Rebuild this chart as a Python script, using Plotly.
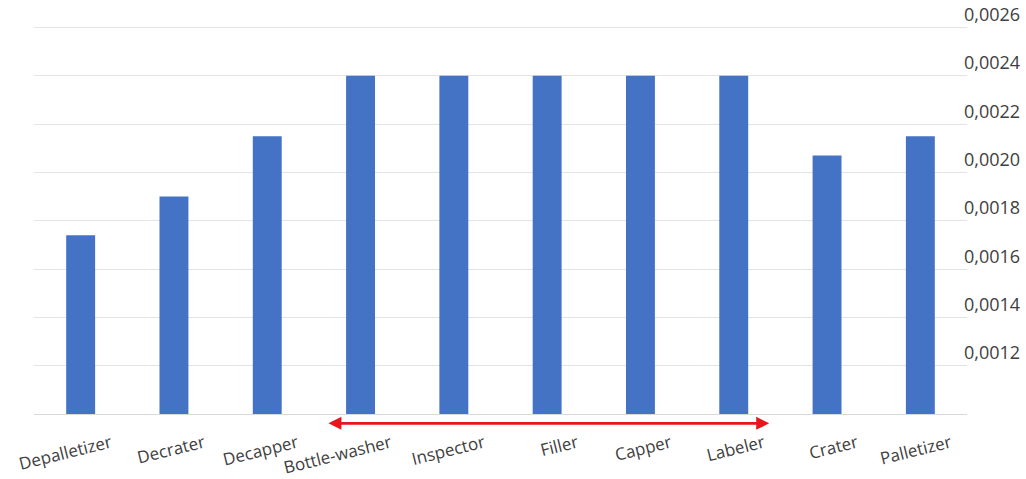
import plotly.graph_objects as go

# ---- data ----
machines = ["Depalletizer", "Decrater", "Decapper", "Bottle-washer", "Inspector",
            "Filler", "Capper", "Labeler", "Crater", "Palletizer"]
values = [0.00174, 0.00190, 0.00215, 0.00240, 0.00240,
          0.00240, 0.00240, 0.00240, 0.00207, 0.00215]
y_ticks = [0.0012, 0.0014, 0.0016, 0.0018, 0.0020, 0.0022, 0.0024, 0.0026]

fig = go.Figure()
fig.add_trace(go.Bar(
    x=machines, y=values,
    marker=dict(color="#4472C4", line=dict(width=0)),
    width=0.31,
))

# red double-headed arrow below the axis (Bottle-washer .. Labeler)
fig.add_annotation(
    x=7.38, y=-0.024, xref="x", yref="paper",
    ax=2.64, ay=0, axref="x", ayref="pixel",
    text="", showarrow=True, arrowside="end+start",
    arrowhead=2, arrowsize=1, arrowwidth=2.6, arrowcolor="#E8151B",
)

fig.update_layout(
    width=1026, height=479,
    margin=dict(l=34, r=59, t=25, b=65),
    paper_bgcolor="white", plot_bgcolor="white",
    separators=", ",
    showlegend=False,
    font=dict(family="Open Sans", size=17, color="#404040"),
    xaxis=dict(
        type="category",
        automargin=False,
        tickangle=-14,
        tickfont=dict(size=17, color="#404040"),
        showline=True, linecolor="#D9D9D9", linewidth=1,
        showgrid=False, ticks="",
        ticklabelshift=30, ticklabelstandoff=12,
    ),
    yaxis=dict(
        side="right",
        automargin=False,
        range=[0.0010, 0.00261],
        tickvals=y_ticks,
        tickformat=".4f",
        tickfont=dict(size=18, color="#404040"),
        showgrid=True, gridcolor="#E3E3E3", gridwidth=1,
        zeroline=False, showline=False, ticks="",
        ticklabelposition="outside top",
        ticklabelstandoff=-4,
    ),
)

fig.write_html("out.html")
